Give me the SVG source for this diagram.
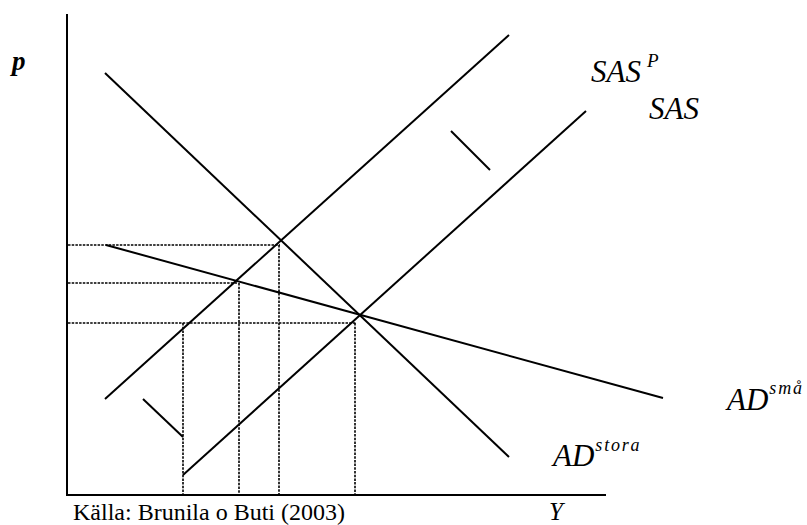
<svg xmlns="http://www.w3.org/2000/svg" width="807" height="525" viewBox="0 0 807 525">
<style>
.ln{stroke:#000;stroke-width:2;fill:none;stroke-linecap:butt}
.dt{stroke:#000;stroke-width:1.6;stroke-dasharray:2.5,1.2;fill:none}
.lb{font-family:'Liberation Serif','Times New Roman','DejaVu Serif',serif;font-style:italic;fill:#000}
.sup{letter-spacing:1.8px}
.src{font-family:'Liberation Serif','Times New Roman','DejaVu Serif',serif;font-size:24px;fill:#000}
</style>
<rect width="807" height="525" fill="#fff"/>
<g id="axes">
<line class="ln" x1="67" y1="14" x2="67" y2="496"/>
<line class="ln" x1="66" y1="495" x2="606" y2="495"/>
</g>
<g id="guides">
<line class="dt" x1="68" y1="245" x2="280" y2="245"/>
<line class="dt" x1="68" y1="283" x2="238" y2="283"/>
<line class="dt" x1="68" y1="323" x2="356" y2="323"/>
<line class="dt" x1="183" y1="323" x2="183" y2="494"/>
<line class="dt" x1="239" y1="283" x2="239" y2="494"/>
<line class="dt" x1="279" y1="245" x2="279" y2="494"/>
<line class="dt" x1="355" y1="323" x2="355" y2="494"/>
</g>
<g id="curves">
<line id="AD-stora" class="ln" x1="105" y1="73" x2="509" y2="457"/>
<line id="SAS-P" class="ln" x1="105" y1="399" x2="509" y2="35"/>
<line id="SAS" class="ln" x1="183" y1="475" x2="586" y2="111"/>
<line id="AD-sma" class="ln" x1="106" y1="245" x2="663" y2="398"/>
<line class="ln" x1="451" y1="131" x2="490" y2="170"/>
<line class="ln" x1="143" y1="399" x2="183" y2="437"/>
</g>
<g id="labels">
<text class="lb" font-family="Liberation Serif, serif" x="12" y="70" font-size="27" font-weight="bold">p</text>
<text class="lb" font-family="Liberation Serif, serif" x="591" y="82" font-size="31">SAS<tspan dx="6" dy="-15" font-size="19">P</tspan></text>
<text class="lb" font-family="Liberation Serif, serif" x="649" y="119" font-size="31">SAS</text>
<text class="lb" font-family="Liberation Serif, serif" x="727" y="410" font-size="31">AD<tspan class="sup" dx="1" dy="-16" font-size="18">små</tspan></text>
<text class="lb" font-family="Liberation Serif, serif" x="553" y="466" font-size="31">AD<tspan class="sup" dx="1" dy="-15" font-size="18">stora</tspan></text>
<text class="lb" font-family="Liberation Serif, serif" x="549" y="520" font-size="25">Y</text>
<text class="src" font-family="Liberation Serif, serif" x="73" y="520">Källa: Brunila o Buti (2003)</text>
</g>
</svg>
